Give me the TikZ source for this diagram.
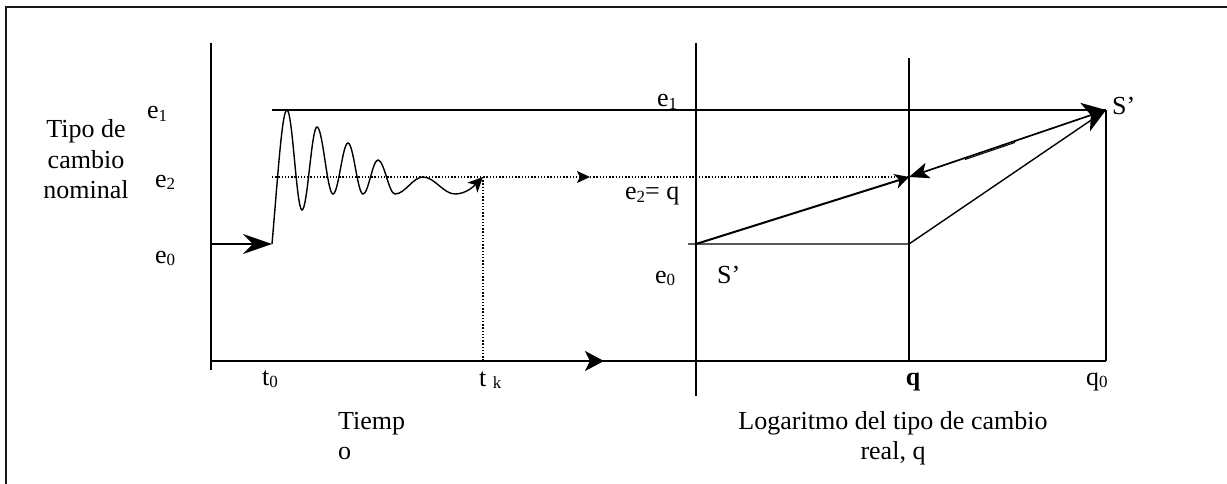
\documentclass[tikz,border=0pt]{standalone}
\usepackage{fontspec}
\setmainfont{Liberation Serif}
\usetikzlibrary{arrows.meta}
\newcommand\mysub[1]{\raisebox{-2.5pt}{\fontsize{17}{17}\selectfont #1}}
\begin{document}
\begin{tikzpicture}[x=1pt,y=-1pt,
  every node/.style={inner sep=0pt, font=\fontsize{26}{30}\selectfont},
  lbl/.style={anchor=base west},
  clbl/.style={anchor=base},
  frame/.style={line width=2.2pt, draw=black!90},
  axis/.style={line width=1.8pt},
  thin/.style={line width=1.4pt},
  dots/.style={line width=1.4pt, dash pattern=on 1.4pt off 1.8pt},
  tipS/.style={-{Stealth[length=13pt,width=12pt,inset=3pt]}}]
\useasboundingbox (0,0) rectangle (1227,484);
\draw[frame] (6,484) -- (6,7) -- (1227,7);
% coordinates
\coordinate (O) at (211,361);
\coordinate (Ltop) at (211,43);
\coordinate (Lbot) at (211,370);
\coordinate (Rtop) at (696,43);
\coordinate (Rbot) at (696,396);
\coordinate (Xend) at (1106,361);
\coordinate (Qtop) at (909,58);
\coordinate (Qbot) at (909,361);
\coordinate (Sup) at (1106,110);
\coordinate (E1a) at (272,110);
\coordinate (E2a) at (272,177);
\coordinate (E2b) at (909,177);
\coordinate (Mid) at (590,177);
\coordinate (E0a) at (211,244);
\coordinate (E0b) at (272,244);
\coordinate (Tk) at (483,177);
\coordinate (TkBot) at (483,361);
\coordinate (R0a) at (688,244);
\coordinate (R0) at (696,244);
\coordinate (Q0) at (909,244);
\coordinate (AxA) at (575,361);
\coordinate (AxB) at (604,361);
\coordinate (ArtA) at (965,159.5);
\coordinate (ArtB) at (1015,142.5);
% axes
\draw[axis] (Ltop) -- (Lbot);
\draw[axis] (O) -- (Xend);
\draw[axis] (Rtop) -- (Rbot);
\draw[axis] (Qtop) -- (Qbot);
\draw[axis] (Sup) -- (Xend);
\draw[axis,-{Stealth[length=19pt,width=20pt,inset=5pt]}] (AxA) -- (AxB);
% levels
\draw[thin] (E1a) -- (Sup);
\draw[dots,tipS] (E2a) -- (Mid);
\draw[dots] (Mid) -- (E2b);
\draw[dots] (Tk) -- (TkBot);
\draw[thin,-{Stealth[length=29pt,width=20pt,inset=10pt]}] (E0a) -- (E0b);
% oscillation
\draw[thin,-{Stealth[length=15pt,width=14pt,inset=4pt]}] (E0b)
  .. controls (278,175) and (282,110) .. (287,110)
  .. controls (292.5,110) and (296.5,210) .. (302,210)
  .. controls (307.5,210) and (311.5,127) .. (317,127)
  .. controls (322.8,127) and (327.2,194) .. (333,194)
  .. controls (338.5,194) and (342.5,143) .. (348,143)
  .. controls (353.5,143) and (357.5,194) .. (363,194)
  .. controls (368.5,194) and (372.5,160) .. (378,160)
  .. controls (384.2,160) and (388.8,194) .. (395,194)
  .. controls (405.2,194) and (412.8,177) .. (423,177)
  .. controls (434.6,177) and (443.4,194) .. (455,194)
  .. controls (466,194) and (474,186) .. (Tk);
% right panel
\draw[thin] (R0a) -- (Q0) -- (Sup);
\draw[line width=2pt,-{Stealth[length=14pt,width=15pt,inset=4pt]}] (R0) -- (E2b);
\draw[line width=1.7pt,{Stealth[length=20pt,width=16pt,inset=5pt]}-{Stealth[length=22pt,width=30pt,inset=6pt]}] (E2b) -- (Sup);
\draw[line width=1pt] (ArtA) -- (ArtB);
% labels left
\node[clbl] (tipo) at (86,138) {Tipo de};
\node[clbl] (cambio) at (86,168) {cambio};
\node[clbl] (nominal) at (86,198) {nominal};
\node[lbl] (e1l) at (147,119) {e\mysub{1}};
\node[lbl] (e2l) at (155,187) {e\mysub{2}};
\node[lbl] (e0l) at (155,263) {e\mysub{0}};
\node[lbl] (t0) at (262,385) {t\mysub{0}};
\node[lbl] (tk) at (479,386) {t \mysub{k}};
\node[lbl] (tiemp) at (338,429) {Tiemp};
\node[lbl] (tiempo) at (338,459) {o};
% labels right
\node[lbl] (e1r) at (657,107) {e\mysub{1}};
\node[lbl] (e2r) at (625,200) {e\mysub{2}= q};
\node[lbl] (e0r) at (655,283) {e\mysub{0}};
\node[lbl] (s1) at (717,283) {S’};
\node[lbl] (s2) at (1112,115) {S’};
\node[clbl] (qb) at (913,385) {\textbf{q}};
\node[lbl] (q0) at (1086,385) {q\mysub{0}};
\node[clbl] (log) at (893,429) {Logaritmo del tipo de cambio};
\node[clbl] (real) at (893,459) {real, q};
\end{tikzpicture}
\end{document}
